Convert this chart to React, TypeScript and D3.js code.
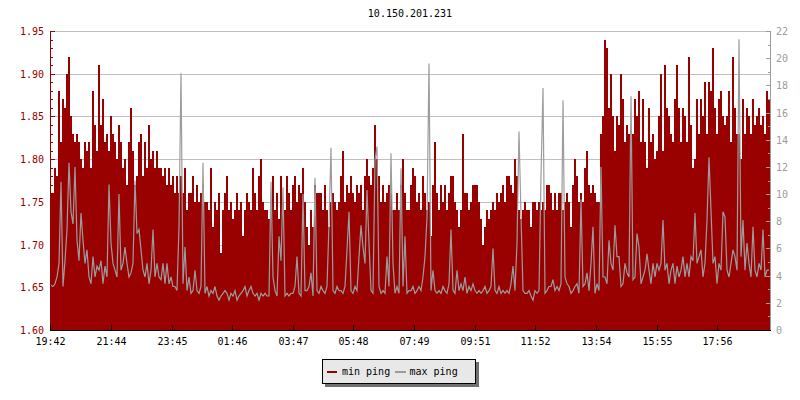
import React from 'react';
import * as d3 from 'd3';

const chartTitle = '10.150.201.231';
const startLabel = '19:42';
const stepMinutes = 4;
const spanMinutes = 1440;
const timeTickLabels = ['19:42', '21:44', '23:45', '01:46', '03:47', '05:48', '07:49', '09:51', '11:52', '13:54', '15:55', '17:56'];
const leftDomain = [1.6, 1.95];
const rightDomain = [0, 22];
const seriesNames = ['min ping', 'max ping'];

const minPing = [
  1.76,1.76,1.79,1.78,1.88,1.82,1.87,1.86,1.90,1.92,
  1.85,1.83,1.82,1.83,1.82,1.80,1.79,1.82,1.81,1.82,
  1.79,1.88,1.84,1.81,1.91,1.84,1.87,1.82,1.83,1.81,
  1.85,1.83,1.82,1.80,1.84,1.82,1.79,1.80,1.77,1.82,
  1.86,1.81,1.77,1.78,1.82,1.83,1.78,1.82,1.79,1.84,
  1.80,1.81,1.79,1.81,1.79,1.79,1.78,1.79,1.77,1.79,
  1.77,1.78,1.76,1.78,1.76,1.78,1.76,1.79,1.74,1.76,
  1.76,1.78,1.75,1.77,1.75,1.76,1.77,1.75,1.75,1.74,
  1.79,1.72,1.75,1.74,1.76,1.69,1.74,1.76,1.78,1.74,
  1.75,1.73,1.74,1.76,1.74,1.75,1.71,1.74,1.76,1.75,
  1.74,1.79,1.76,1.74,1.78,1.80,1.75,1.74,1.74,1.73,
  1.75,1.78,1.74,1.76,1.73,1.78,1.75,1.74,1.78,1.76,
  1.74,1.77,1.78,1.75,1.77,1.76,1.79,1.75,1.72,1.70,
  1.74,1.72,1.77,1.76,1.76,1.76,1.74,1.77,1.74,1.72,
  1.75,1.76,1.75,1.74,1.75,1.78,1.81,1.75,1.77,1.76,
  1.78,1.76,1.75,1.77,1.76,1.77,1.74,1.78,1.80,1.78,
  1.77,1.79,1.84,1.80,1.78,1.75,1.77,1.75,1.76,1.77,
  1.76,1.74,1.74,1.76,1.74,1.77,1.80,1.76,1.74,1.74,
  1.77,1.79,1.78,1.75,1.76,1.74,1.78,1.76,1.74,1.75,
  1.71,1.77,1.82,1.76,1.74,1.77,1.75,1.77,1.74,1.76,
  1.78,1.78,1.75,1.74,1.72,1.74,1.83,1.76,1.76,1.74,
  1.75,1.77,1.77,1.77,1.75,1.73,1.70,1.72,1.74,1.73,
  1.74,1.75,1.74,1.76,1.75,1.76,1.77,1.75,1.78,1.78,
  1.77,1.76,1.80,1.78,1.74,1.73,1.74,1.75,1.74,1.74,
  1.72,1.75,1.75,1.74,1.75,1.74,1.75,1.74,1.77,1.77,
  1.76,1.74,1.76,1.74,1.76,1.76,1.74,1.75,1.76,1.75,
  1.72,1.77,1.80,1.78,1.75,1.76,1.75,1.79,1.81,1.77,
  1.76,1.77,1.76,1.75,1.75,1.83,1.85,1.94,1.93,1.86,
  1.90,1.85,1.81,1.85,1.84,1.90,1.87,1.82,1.84,1.83,
  1.82,1.83,1.87,1.85,1.88,1.82,1.87,1.82,1.79,1.86,
  1.82,1.83,1.80,1.81,1.85,1.90,1.81,1.91,1.86,1.85,
  1.83,1.82,1.87,1.91,1.86,1.82,1.86,1.85,1.82,1.92,
  1.84,1.79,1.80,1.87,1.83,1.87,1.85,1.89,1.83,1.89,
  1.88,1.93,1.86,1.83,1.87,1.88,1.85,1.84,1.85,1.88,
  1.82,1.92,1.86,1.83,1.83,1.80,1.87,1.83,1.86,1.85,
  1.83,1.87,1.84,1.85,1.86,1.84,1.85,1.83,1.88,1.87,
];

const maxPing = [
  3.3,3.2,3.4,3.9,4.9,10.9,3.2,5.1,7.4,12.3,
  8.7,7.8,12.0,6.6,5.1,8.6,6.6,4.9,5.9,3.9,
  3.4,5.4,3.9,4.7,4.4,5.1,3.4,4.7,3.9,10.7,
  6.4,4.9,4.4,3.9,10.0,4.4,4.9,6.1,4.9,3.9,
  4.2,4.9,11.0,7.1,7.4,5.9,4.4,3.9,4.9,3.4,
  4.4,7.4,3.9,4.9,3.9,3.7,4.9,3.4,4.9,3.4,
  3.9,3.2,3.2,2.9,7.6,18.9,3.4,6.1,2.9,3.9,
  2.7,2.9,4.4,2.9,2.7,3.2,12.3,2.7,3.2,2.5,
  2.9,2.7,3.2,2.5,2.2,2.5,2.7,2.9,2.7,2.2,
  2.7,2.5,2.9,2.2,2.5,2.7,2.9,3.2,2.5,2.9,
  3.2,2.7,2.5,2.7,2.2,2.7,2.5,2.7,2.5,2.5,
  10.9,3.9,2.9,2.5,6.9,5.1,10.5,2.5,2.7,2.5,
  2.7,2.7,3.2,5.4,2.7,2.5,10.0,2.9,2.9,3.2,
  4.2,2.5,11.2,2.9,2.7,3.2,2.9,2.7,3.2,7.8,
  13.4,2.9,2.7,3.2,2.9,2.9,2.7,3.2,5.9,8.7,
  2.9,2.7,3.2,2.9,5.4,7.7,6.1,4.9,10.3,6.4,
  2.9,2.7,12.5,13.5,3.2,2.7,2.9,2.7,5.4,3.2,
  13.0,4.9,2.7,3.2,2.7,11.9,3.2,6.9,2.7,2.9,
  2.9,3.2,2.7,2.9,3.2,2.9,3.9,5.4,8.3,19.6,
  2.9,4.4,2.9,2.7,2.9,2.7,3.2,2.9,2.7,3.4,
  7.4,2.9,2.7,4.4,2.9,3.4,2.9,3.9,2.7,3.2,
  2.9,3.4,2.9,2.7,2.9,2.7,2.9,3.2,2.7,2.9,
  3.2,6.0,2.9,2.7,3.2,2.7,2.9,2.7,2.9,2.7,
  3.4,4.7,2.9,6.4,14.6,8.4,2.9,2.7,2.7,2.9,
  2.5,2.2,2.9,2.7,2.9,11.3,17.8,2.7,2.9,3.2,
  3.2,3.7,2.9,3.2,2.9,3.4,16.9,3.9,3.4,3.2,
  2.7,2.9,3.2,3.4,2.7,9.6,3.2,3.4,4.2,2.9,
  4.9,7.6,2.7,3.4,2.9,12.0,3.9,3.9,3.4,6.6,
  4.9,4.4,7.7,5.4,5.4,3.2,3.4,4.9,4.2,3.9,
  17.2,3.7,3.9,7.1,6.1,3.4,3.9,4.4,5.6,4.4,
  3.4,4.9,3.9,4.9,4.4,4.9,8.1,4.4,4.9,3.4,
  4.4,4.9,3.4,4.7,3.9,4.4,5.4,3.9,4.9,3.9,
  5.4,5.1,8.6,4.9,5.4,5.9,3.9,4.9,8.1,12.7,
  8.8,4.9,5.4,3.4,4.9,4.4,8.7,8.3,4.4,3.9,
  4.9,5.9,5.4,4.4,21.4,5.4,8.1,4.4,6.4,4.9,
  3.9,7.6,4.4,3.9,4.9,4.4,7.4,3.9,4.4,4.4,
];

const W = 800;
const H = 400;
const PL = 50;
const PR = 770;
const PT = 31;
const PB = 330;
const RED = '#990000';
const GRAY = '#9c9c9c';
const FONT = '"DejaVu Sans Mono", monospace';

function toMinutes(label: string) {
  const [h, m] = label.split(':').map(Number);
  return h * 60 + m;
}

export default function App() {
  const startMin = toMinutes(startLabel);
  const x = d3.scaleLinear().domain([0, spanMinutes]).range([PL, PR]);
  const yL = d3.scaleLinear().domain(leftDomain).range([PB, PT]);
  const yR = d3.scaleLinear().domain(rightDomain).range([PB, PT]);

  const minPts: [number, number][] = minPing.map((v, i) => [i * stepMinutes, v]);
  minPts.push([minPing.length * stepMinutes, minPing[minPing.length - 1]]);
  const maxPts: [number, number][] = maxPing.map((v, i) => [(i + 0.5) * stepMinutes, v]);

  const area = d3
    .area<[number, number]>()
    .x((d) => x(d[0]))
    .y0(PB)
    .y1((d) => yL(d[1]))
    .curve(d3.curveStepAfter);
  const line = d3
    .line<[number, number]>()
    .x((d) => x(d[0]))
    .y((d) => yR(d[1]))
    .curve(d3.curveLinear);

  const leftTicks = d3.range(0, 36).map((i) => ({ v: leftDomain[0] + i * 0.01, major: i % 5 === 0 }));
  const rightTicks = d3.range(rightDomain[0], rightDomain[1] + 1).map((v) => ({ v, major: v % 2 === 0 }));
  const timeTicks = timeTickLabels.map((lab) => ({
    lab,
    m: (toMinutes(lab) - startMin + 1440) % 1440,
  }));
  const fmt = d3.format('.2f');
  const cx = (PL + PR) / 2;

  return (
    <svg
      width={W}
      height={H}
      style={{ position: 'absolute', left: 0, top: 0, background: '#fff' }}
      fontFamily={FONT}
      fontSize={10}
    >
      <rect x={0} y={0} width={W} height={H} fill="#fff" />
      <text x={cx} y={17} textAnchor="middle" fill="#000">
        {chartTitle}
      </text>

      {leftTicks
        .filter((t) => t.major)
        .map((t) => (
          <line
            key={'g' + t.v}
            x1={PL}
            x2={PR}
            y1={Math.round(yL(t.v)) + 0.5}
            y2={Math.round(yL(t.v)) + 0.5}
            stroke="#c0c0c0"
            strokeWidth={1}
          />
        ))}

      <path d={area(minPts) || ''} fill={RED} shapeRendering="crispEdges" />
      <path d={line(maxPts) || ''} fill="none" stroke={GRAY} strokeWidth={1.2} strokeLinejoin="miter" />

      {/* left axis */}
      <line x1={PL + 0.5} x2={PL + 0.5} y1={PT} y2={PB} stroke={RED} />
      {leftTicks.map((t) => {
        const y = Math.round(yL(t.v)) + 0.5;
        return (
          <g key={'l' + t.v}>
            <line x1={PL} x2={PL + (t.major ? 5 : 3)} y1={y} y2={y} stroke={RED} />
            {t.major && (
              <text x={44} y={y + 3.5} textAnchor="end" fill={RED}>
                {fmt(t.v)}
              </text>
            )}
          </g>
        );
      })}

      {/* right axis */}
      <line x1={PR + 0.5} x2={PR + 0.5} y1={PT} y2={PB} stroke={GRAY} />
      {rightTicks.map((t) => {
        const y = Math.round(yR(t.v)) + 0.5;
        return (
          <g key={'r' + t.v}>
            <line x1={PR + 1} x2={PR + 1 - (t.major ? 5 : 3)} y1={y} y2={y} stroke={GRAY} />
            {t.major && (
              <text x={776} y={y + 3.5} textAnchor="start" fill={GRAY}>
                {t.v}
              </text>
            )}
          </g>
        );
      })}

      {/* bottom axis */}
      <line x1={PL} x2={PR + 1} y1={PB + 0.5} y2={PB + 0.5} stroke="#000" />
      {timeTicks.map((t) => {
        const xx = Math.round(x(t.m)) + 0.5;
        return (
          <g key={'t' + t.lab}>
            <line x1={xx} x2={xx} y1={PB} y2={PB - 5} stroke="#000" />
            <text x={xx} y={344.5} textAnchor="middle" fill="#000">
              {t.lab}
            </text>
          </g>
        );
      })}

      {/* legend */}
      <rect x={325} y={362} width={154} height={25} fill="#707070" />
      <rect x={322.5} y={359.5} width={153} height={24} fill="#e8e8e8" stroke="#000" />
      <rect x={327} y={371} width={10} height={2} fill={RED} />
      <text x={342} y={375} fill="#000">
        {seriesNames[0]}
      </text>
      <rect x={395} y={371} width={11} height={2} fill={GRAY} />
      <text x={409.5} y={375} fill="#000">
        {seriesNames[1]}
      </text>
    </svg>
  );
}
